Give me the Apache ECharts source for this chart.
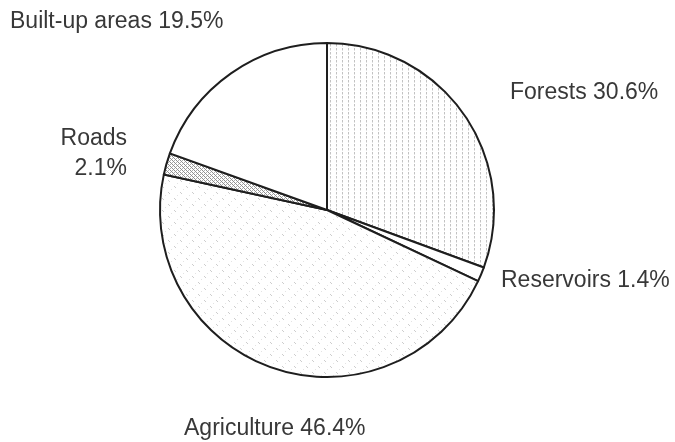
<!DOCTYPE html>
<html>
<head>
<meta charset="utf-8">
<script src="https://cdn.jsdelivr.net/npm/echarts@6/dist/echarts.min.js"></script>
<style>
html,body{margin:0;padding:0;background:#fff;}
#chart{width:675px;height:442px;}
</style>
</head>
<body>
<div id="chart"></div>
<script>
// Data
const categories = ['Forests', 'Reservoirs', 'Agriculture', 'Roads', 'Built-up areas'];
const shares = [30.6, 1.4, 46.4, 2.1, 19.5];

// Label anchors (layout, not data)
const labelAnchors = [
  {x: 510, y: 93, align: 'left'},
  {x: 501, y: 281, align: 'left'},
  {x: 184, y: 429, align: 'left'},
  {x: 127, y: 154, align: 'right'},
  {x: 10, y: 22, align: 'left'}
];

function makePattern(w, h, draw) {
  const c = document.createElement('canvas');
  c.width = w; c.height = h;
  const ctx = c.getContext('2d');
  ctx.fillStyle = '#ffffff';
  ctx.fillRect(0, 0, w, h);
  draw(ctx);
  return {image: c, repeat: 'repeat'};
}

// Forests: vertical dotted lines
const forestPat = makePattern(6, 4, ctx => {
  ctx.fillStyle = '#c2c2c2';
  ctx.fillRect(0, 0, 1, 2);
  ctx.fillStyle = '#e2e2e2';
  ctx.fillRect(0, 2, 1, 1);
});
// Agriculture: sparse diagonal specks
const agriPat = makePattern(12, 12, ctx => {
  ctx.fillStyle = '#cdcdcd';
  ctx.fillRect(0, 0, 1, 1);
  ctx.fillRect(1, 1, 1, 1);
  ctx.fillRect(6, 6, 1, 1);
  ctx.fillRect(7, 7, 1, 1);
  ctx.fillStyle = '#e4e4e4';
  ctx.fillRect(3, 9, 1, 1);
  ctx.fillRect(9, 3, 1, 1);
});
// Roads: crosshatch
const roadPat = makePattern(4, 4, ctx => {
  ctx.fillStyle = '#8f8f8f';
  ctx.fillRect(0, 0, 1, 1);
  ctx.fillRect(2, 2, 1, 1);
  ctx.fillRect(1, 1, 1, 1);
  ctx.fillRect(3, 3, 1, 1);
  ctx.fillStyle = '#b0b0b0';
  ctx.fillRect(2, 0, 1, 1);
  ctx.fillRect(0, 2, 1, 1);
});
const fills = [forestPat, '#ffffff', agriPat, roadPat, '#ffffff'];

const chart = echarts.init(document.getElementById('chart'), null, {renderer: 'canvas'});
chart.setOption({
  animation: false,
  backgroundColor: '#ffffff',
  series: [{
    type: 'pie',
    center: [327, 210],
    radius: 167,
    startAngle: 90,
    clockwise: true,
    avoidLabelOverlap: false,
    itemStyle: {borderColor: '#1e1e1e', borderWidth: 2},
    label: {
      show: true,
      position: 'outside',
      fontFamily: 'Liberation Sans, Arial, sans-serif',
      fontSize: 23,
      color: '#383838',
      lineHeight: 30,
      formatter: p => p.dataIndex === 3
        ? p.name + '\n' + p.value.toFixed(1) + '%'
        : p.name + ' ' + p.value.toFixed(1) + '%'
    },
    labelLine: {show: false},
    labelLayout: params => {
      const a = labelAnchors[params.dataIndex];
      return {x: a.x, y: a.y, align: a.align, verticalAlign: 'middle'};
    },
    emphasis: {disabled: true},
    data: categories.map((n, i) => ({
      name: n,
      value: shares[i],
      itemStyle: {color: fills[i]},
      label: {align: labelAnchors[i].align}
    }))
  }]
});
</script>
</body>
</html>
